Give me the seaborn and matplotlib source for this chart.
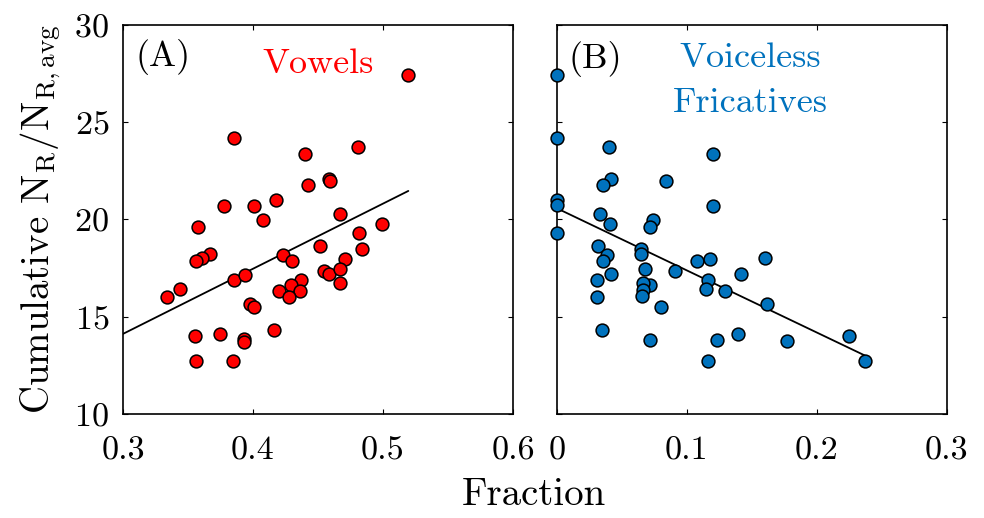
import numpy as np
import pandas as pd
import matplotlib
matplotlib.use("Agg")
import matplotlib.pyplot as plt
import seaborn as sns

# Panel A: vowels
vowel_frac = [0.5195, 0.3854, 0.4805, 0.4397, 0.4585, 0.4595, 0.4426, 0.3774, 0.4005, 0.4177,
              0.4074, 0.3579, 0.4667, 0.4995, 0.4818, 0.4515, 0.4838, 0.3672, 0.3608, 0.3559,
              0.4233, 0.4303, 0.4705, 0.4546, 0.4585, 0.4672, 0.4667, 0.3856, 0.3936, 0.3336,
              0.3438, 0.4372, 0.4295, 0.4359, 0.4200, 0.4279, 0.3974, 0.4008, 0.4159, 0.3551,
              0.3749, 0.3933, 0.3933, 0.3562, 0.3844]
vowel_nr = [27.43, 24.18, 23.72, 23.36, 22.09, 22.00, 21.75, 20.70, 20.70, 21.01,
            19.98, 19.61, 20.27, 19.76, 19.28, 18.66, 18.46, 18.24, 18.01, 17.84,
            18.15, 17.84, 17.96, 17.33, 17.21, 17.45, 16.71, 16.90, 17.16, 16.04,
            16.42, 16.87, 16.61, 16.30, 16.30, 16.03, 15.67, 15.48, 14.33, 14.02,
            14.11, 13.85, 13.68, 12.71, 12.71]

# Panel B: voiceless fricatives
fric_frac = [0.0, 0.0, 0.0, 0.0, 0.0, 0.0397, 0.1203, 0.0418, 0.0356, 0.0839,
             0.1203, 0.0333, 0.0741, 0.0715, 0.0408, 0.0315, 0.0643, 0.0650, 0.0382, 0.0356,
             0.1597, 0.1079, 0.1174, 0.0676, 0.0906, 0.0418, 0.1419, 0.0305, 0.1159, 0.0715,
             0.0661, 0.0661, 0.0655, 0.1148, 0.1293, 0.0312, 0.1613, 0.0797, 0.0348, 0.1396,
             0.0717, 0.1228, 0.1773, 0.2245, 0.1164, 0.2372]
fric_nr = [27.43, 24.18, 21.01, 20.72, 19.28, 23.72, 23.36, 22.09, 21.75, 22.00,
           20.68, 20.27, 19.98, 19.61, 19.76, 18.66, 18.48, 18.24, 18.15, 17.84,
           18.01, 17.84, 17.96, 17.45, 17.33, 17.21, 17.19, 16.87, 16.90, 16.64,
           16.71, 16.37, 16.08, 16.40, 16.30, 16.04, 15.65, 15.48, 14.32, 14.11,
           13.82, 13.82, 13.73, 14.02, 12.71, 12.71]

xticks_a = [0.3, 0.4, 0.5, 0.6]
xticks_b = [0, 0.1, 0.2, 0.3]
xticklabels_a = ["0.3", "0.4", "0.5", "0.6"]
xticklabels_b = ["0", "0.1", "0.2", "0.3"]
yticks = [10, 15, 20, 25, 30]

sns.set_style("ticks")
plt.rcParams["font.family"] = ["cmr10", "DejaVu Serif"]
plt.rcParams["mathtext.fontset"] = "cm"
plt.rcParams["axes.unicode_minus"] = False
plt.rcParams["axes.formatter.use_mathtext"] = True
plt.rcParams["text.color"] = "black"
plt.rcParams["axes.labelcolor"] = "black"
plt.rcParams["xtick.color"] = "black"
plt.rcParams["ytick.color"] = "black"
plt.rcParams["axes.edgecolor"] = "black"

df_a = pd.DataFrame({"frac": vowel_frac, "nr": vowel_nr})
df_b = pd.DataFrame({"frac": fric_frac, "nr": fric_nr})

fig = plt.figure(figsize=(9.84, 5.18), dpi=100)
ax_a = fig.add_axes([0.125, 0.2008, 0.3963, 0.751])
ax_b = fig.add_axes([0.566, 0.2008, 0.3963, 0.751])

red = "#FF0000"
blue = "#0072BD"

for ax, df, col, xl, xt, xtl in [(ax_a, df_a, red, (0.3, 0.6), xticks_a, xticklabels_a),
                                 (ax_b, df_b, blue, (0, 0.3), xticks_b, xticklabels_b)]:
    sns.scatterplot(data=df, x="frac", y="nr", ax=ax, color=col, edgecolor="black",
                    linewidth=1.1, s=85, zorder=3, clip_on=False)
    # least squares fit, from the left axis edge to the largest fraction
    k, b = np.polyfit(df["frac"], df["nr"], 1)
    xs = np.array([xl[0], df["frac"].max()])
    ax.plot(xs, k * xs + b, color="black", lw=1.3, zorder=2)
    ax.set_xlim(*xl)
    ax.set_ylim(10, 30)
    ax.set_xticks(xt)
    ax.set_xticklabels(xtl)
    ax.set_yticks(yticks)
    ax.set_xlabel("")
    ax.set_ylabel("")
    ax.tick_params(direction="in", length=3.5, width=0.8, top=True, right=True,
                   labelsize=24.5, colors="black")
    ax.tick_params(axis="x", pad=16)
    ax.tick_params(axis="y", pad=10)
    for sp in ax.spines.values():
        sp.set_linewidth(1.2)

ax_b.tick_params(labelleft=False)
ax_a.set_ylabel(r"Cumulative $\mathrm{N_R/N_{R,avg}}$", fontsize=28, labelpad=8)
fig.text(0.543, 0.025, "Fraction", ha="center", va="baseline", fontsize=28)

ax_a.text(0.033, 0.895, "(A)", transform=ax_a.transAxes, ha="left", va="baseline", fontsize=26)
ax_a.text(0.50, 0.877, "Vowels", transform=ax_a.transAxes, ha="center", va="baseline",
          fontsize=26, color=red)
ax_b.text(0.03, 0.89, "(B)", transform=ax_b.transAxes, ha="left", va="baseline", fontsize=26)
ax_b.text(0.495, 0.892, "Voiceless", transform=ax_b.transAxes, ha="center",
          va="baseline", fontsize=26, color=blue)
ax_b.text(0.495, 0.776, "Fricatives", transform=ax_b.transAxes, ha="center",
          va="baseline", fontsize=26, color=blue)

fig.savefig("out.png", dpi=100)
